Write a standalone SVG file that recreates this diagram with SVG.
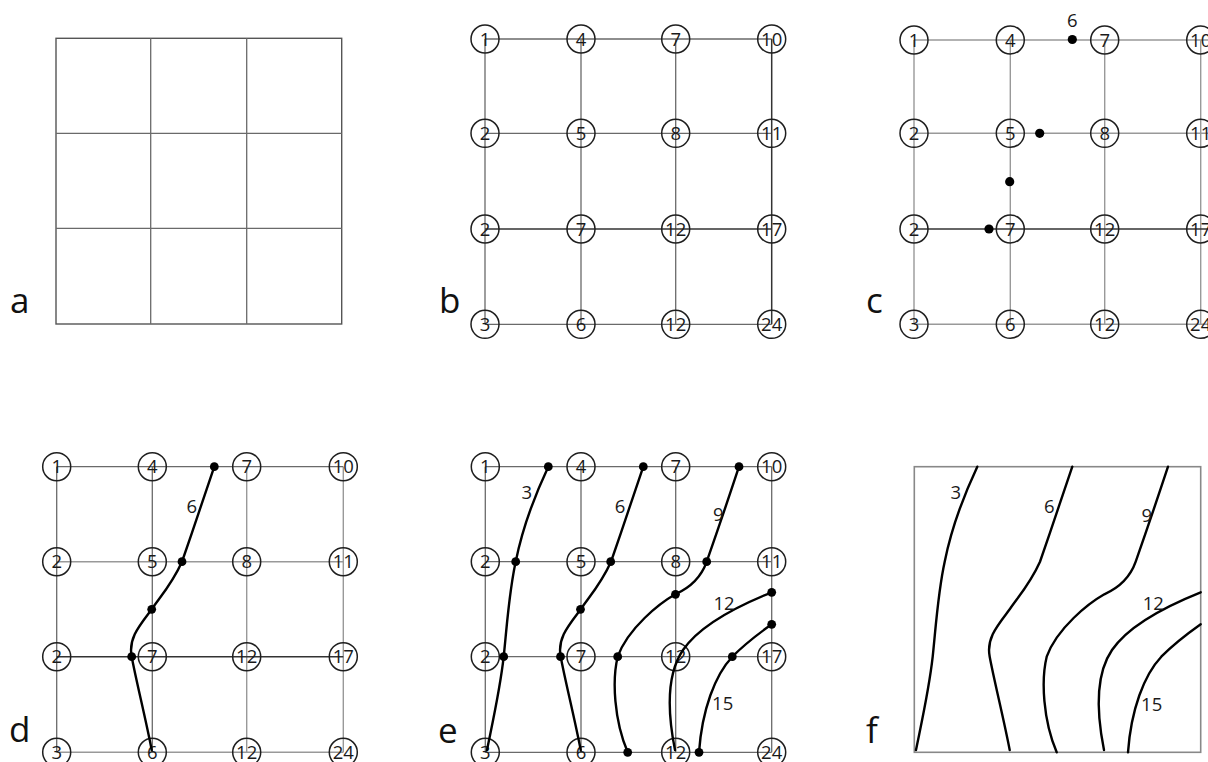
<svg xmlns="http://www.w3.org/2000/svg" xmlns:xlink="http://www.w3.org/1999/xlink" width="1208" height="762" viewBox="0 0 1208 762">
<style>
.bg{fill:#fff}
.g1{stroke:#6a6a6a;stroke-width:1.3;fill:none}
.g2{stroke:#999;stroke-width:1.4;fill:none}
.gd{stroke:#333;stroke-width:1.5;fill:none}
.box{stroke:#555;stroke-width:1.4;fill:none}
.boxf{stroke:#888;stroke-width:1.6;fill:none}
.n circle{fill:none;stroke:#1e1e1e;stroke-width:1.5}
.n text{font-family:"Open Sans","DejaVu Sans",sans-serif;font-size:18.5px;fill:#1a1a1a;text-anchor:middle}
.lab{font-family:"Open Sans","DejaVu Sans",sans-serif;font-size:35px;fill:#111}
.cl{font-family:"Open Sans","DejaVu Sans",sans-serif;font-size:18.5px;fill:#1a1a1a;text-anchor:middle}
.ct{fill:none;stroke:#000;stroke-width:2.4;stroke-linecap:round}
.dot{fill:#000}
</style>
<defs>
<path id="c3" d="M548.3,466.7 C535,495 522,530 515.7,561.7 C509,592 507,625 503.7,656.7 C500,690 492,725 487,750"/>
<path id="c6" d="M643.3,466.7 C633,497 622,530 611,561.7 C601,584 589,597 580.7,609.3 C569,625 557,638 560.7,656.7 C565,680 575,720 580.7,750"/>
<path id="c9" d="M739,466.7 C728,500 716,535 706.7,561.7 C702,575 692,587 675.3,594.3 C660,603 628,628 617.7,656.7 C612,680 614,720 627.7,752.3"/>
<path id="c12" d="M771.7,592.3 C740,605 700,625 683,650 C668,672 666,705 675,750"/>
<path id="c15" d="M771.7,624.3 C758,634 744,645 732.3,656.7 C715,675 702,710 699,752.3"/>
</defs>
<rect class="bg" x="0" y="0" width="1208" height="762"/>

<!-- Panel a -->
<g id="panel-a">
<rect class="box" x="56" y="38.3" width="285.7" height="285.7"/>
<path class="g1" d="M150.7,38.3V324 M246.7,38.3V324 M56,133.3H341.7 M56,228.3H341.7"/>
<text class="lab" x="10" y="313">a</text>
</g>

<!-- Panel b -->
<g id="panel-b">
<g id="b-connectors">
<path class="g1" d="M485,39H771.7 M485,133.3H771.7 M485,324.3H771.7 M485,39V324.3 M581,39V324.3 M675.7,39V324.3"/>
<path class="gd" d="M485,229H771.7 M771.7,39V324.3"/>
</g>
<g id="b-n1" class="n"><circle cx="485" cy="39" r="14"/><text x="485" y="45.5">1</text></g>
<g id="b-n4" class="n"><circle cx="581" cy="39" r="14"/><text x="581" y="45.5">4</text></g>
<g id="b-n7" class="n"><circle cx="675.7" cy="39" r="14"/><text x="675.7" y="45.5">7</text></g>
<g id="b-n10" class="n"><circle cx="771.7" cy="39" r="14"/><text x="771.7" y="45.5">10</text></g>
<g id="b-n2a" class="n"><circle cx="485" cy="133.3" r="14"/><text x="485" y="139.8">2</text></g>
<g id="b-n5" class="n"><circle cx="581" cy="133.3" r="14"/><text x="581" y="139.8">5</text></g>
<g id="b-n8" class="n"><circle cx="675.7" cy="133.3" r="14"/><text x="675.7" y="139.8">8</text></g>
<g id="b-n11" class="n"><circle cx="771.7" cy="133.3" r="14"/><text x="771.7" y="139.8">11</text></g>
<g id="b-n2b" class="n"><circle cx="485" cy="229" r="14"/><text x="485" y="235.5">2</text></g>
<g id="b-n7b" class="n"><circle cx="581" cy="229" r="14"/><text x="581" y="235.5">7</text></g>
<g id="b-n12a" class="n"><circle cx="675.7" cy="229" r="14"/><text x="675.7" y="235.5">12</text></g>
<g id="b-n17" class="n"><circle cx="771.7" cy="229" r="14"/><text x="771.7" y="235.5">17</text></g>
<g id="b-n3" class="n"><circle cx="485" cy="324.3" r="14"/><text x="485" y="330.8">3</text></g>
<g id="b-n6" class="n"><circle cx="581" cy="324.3" r="14"/><text x="581" y="330.8">6</text></g>
<g id="b-n12b" class="n"><circle cx="675.7" cy="324.3" r="14"/><text x="675.7" y="330.8">12</text></g>
<g id="b-n24" class="n"><circle cx="771.7" cy="324.3" r="14"/><text x="771.7" y="330.8">24</text></g>
<text class="lab" x="439" y="313">b</text>
</g>

<!-- Panel c -->
<g id="panel-c">
<g id="c-connectors">
<path class="g2" d="M914,40H1208 M914,133.3H1208 M914,324.3H1208 M914,40V324.3 M1010.3,40V324.3 M1104.7,40V324.3 M1200.7,40V324.3"/>
<path class="gd" d="M914,229H1208"/>
</g>
<g id="c-n1" class="n"><circle cx="914" cy="40" r="14"/><text x="914" y="46.5">1</text></g>
<g id="c-n4" class="n"><circle cx="1010.3" cy="40" r="14"/><text x="1010.3" y="46.5">4</text></g>
<g id="c-n7" class="n"><circle cx="1104.7" cy="40" r="14"/><text x="1104.7" y="46.5">7</text></g>
<g id="c-n10" class="n"><circle cx="1200.7" cy="40" r="14"/><text x="1200.7" y="46.5">10</text></g>
<g id="c-n2a" class="n"><circle cx="914" cy="133.3" r="14"/><text x="914" y="139.8">2</text></g>
<g id="c-n5" class="n"><circle cx="1010.3" cy="133.3" r="14"/><text x="1010.3" y="139.8">5</text></g>
<g id="c-n8" class="n"><circle cx="1104.7" cy="133.3" r="14"/><text x="1104.7" y="139.8">8</text></g>
<g id="c-n11" class="n"><circle cx="1200.7" cy="133.3" r="14"/><text x="1200.7" y="139.8">11</text></g>
<g id="c-n2b" class="n"><circle cx="914" cy="229" r="14"/><text x="914" y="235.5">2</text></g>
<g id="c-n7b" class="n"><circle cx="1010.3" cy="229" r="14"/><text x="1010.3" y="235.5">7</text></g>
<g id="c-n12a" class="n"><circle cx="1104.7" cy="229" r="14"/><text x="1104.7" y="235.5">12</text></g>
<g id="c-n17" class="n"><circle cx="1200.7" cy="229" r="14"/><text x="1200.7" y="235.5">17</text></g>
<g id="c-n3" class="n"><circle cx="914" cy="324.3" r="14"/><text x="914" y="330.8">3</text></g>
<g id="c-n6" class="n"><circle cx="1010.3" cy="324.3" r="14"/><text x="1010.3" y="330.8">6</text></g>
<g id="c-n12b" class="n"><circle cx="1104.7" cy="324.3" r="14"/><text x="1104.7" y="330.8">12</text></g>
<g id="c-n24" class="n"><circle cx="1200.7" cy="324.3" r="14"/><text x="1200.7" y="330.8">24</text></g>
<g id="c-points">
<circle class="dot" cx="1072.3" cy="39.5" r="4.6"/>
<circle class="dot" cx="1039.7" cy="133.3" r="4.6"/>
<circle class="dot" cx="1009.7" cy="181.7" r="4.6"/>
<circle class="dot" cx="989" cy="229" r="4.6"/>
<text class="cl" x="1072.3" y="26.5">6</text>
</g>
<text class="lab" x="866" y="313">c</text>
</g>

<!-- Panel d -->
<g id="panel-d">
<g id="d-connectors">
<path class="g2" d="M246.7,466.7V752.3 M343.3,466.7V752.3 M56.7,561.7H343.3 M56.7,752.3H343.3"/>
<path class="g1" d="M56.7,466.7H343.3 M56.7,466.7V752.3 M152.3,466.7V752.3"/>
<path class="gd" d="M56.7,656.7H343.3"/>
</g>
<g id="d-n1" class="n"><circle cx="56.7" cy="466.7" r="14"/><text x="56.7" y="473.2">1</text></g>
<g id="d-n4" class="n"><circle cx="152.3" cy="466.7" r="14"/><text x="152.3" y="473.2">4</text></g>
<g id="d-n7" class="n"><circle cx="246.7" cy="466.7" r="14"/><text x="246.7" y="473.2">7</text></g>
<g id="d-n10" class="n"><circle cx="343.3" cy="466.7" r="14"/><text x="343.3" y="473.2">10</text></g>
<g id="d-n2a" class="n"><circle cx="56.7" cy="561.7" r="14"/><text x="56.7" y="568.2">2</text></g>
<g id="d-n5" class="n"><circle cx="152.3" cy="561.7" r="14"/><text x="152.3" y="568.2">5</text></g>
<g id="d-n8" class="n"><circle cx="246.7" cy="561.7" r="14"/><text x="246.7" y="568.2">8</text></g>
<g id="d-n11" class="n"><circle cx="343.3" cy="561.7" r="14"/><text x="343.3" y="568.2">11</text></g>
<g id="d-n2b" class="n"><circle cx="56.7" cy="656.7" r="14"/><text x="56.7" y="663.2">2</text></g>
<g id="d-n7b" class="n"><circle cx="152.3" cy="656.7" r="14"/><text x="152.3" y="663.2">7</text></g>
<g id="d-n12a" class="n"><circle cx="246.7" cy="656.7" r="14"/><text x="246.7" y="663.2">12</text></g>
<g id="d-n17" class="n"><circle cx="343.3" cy="656.7" r="14"/><text x="343.3" y="663.2">17</text></g>
<g id="d-n3" class="n"><circle cx="56.7" cy="752.3" r="14"/><text x="56.7" y="758.8">3</text></g>
<g id="d-n6" class="n"><circle cx="152.3" cy="752.3" r="14"/><text x="152.3" y="758.8">6</text></g>
<g id="d-n12b" class="n"><circle cx="246.7" cy="752.3" r="14"/><text x="246.7" y="758.8">12</text></g>
<g id="d-n24" class="n"><circle cx="343.3" cy="752.3" r="14"/><text x="343.3" y="758.8">24</text></g>
<g id="d-contour">
<use href="#c6" xlink:href="#c6" class="ct" transform="translate(-429,0)"/>
<circle class="dot" cx="214.3" cy="466.7" r="4.4"/>
<circle class="dot" cx="182" cy="561.7" r="4.4"/>
<circle class="dot" cx="151.7" cy="609.3" r="4.4"/>
<circle class="dot" cx="131.7" cy="656.7" r="4.4"/>
<text class="cl" x="191.7" y="512.5">6</text>
</g>
<text class="lab" x="9" y="741.5">d</text>
</g>

<!-- Panel e -->
<g id="panel-e">
<g id="e-connectors">
<path class="g1" d="M485.3,466.7H771.7 M485.3,561.7H771.7 M485.3,656.7H771.7 M485.3,752.3H771.7 M485.3,466.7V752.3 M581,466.7V752.3 M675.7,466.7V752.3 M771.7,466.7V752.3"/>
</g>
<g id="e-n1" class="n"><circle cx="485.3" cy="466.7" r="14"/><text x="485.3" y="473.2">1</text></g>
<g id="e-n4" class="n"><circle cx="581" cy="466.7" r="14"/><text x="581" y="473.2">4</text></g>
<g id="e-n7" class="n"><circle cx="675.7" cy="466.7" r="14"/><text x="675.7" y="473.2">7</text></g>
<g id="e-n10" class="n"><circle cx="771.7" cy="466.7" r="14"/><text x="771.7" y="473.2">10</text></g>
<g id="e-n2a" class="n"><circle cx="485.3" cy="561.7" r="14"/><text x="485.3" y="568.2">2</text></g>
<g id="e-n5" class="n"><circle cx="581" cy="561.7" r="14"/><text x="581" y="568.2">5</text></g>
<g id="e-n8" class="n"><circle cx="675.7" cy="561.7" r="14"/><text x="675.7" y="568.2">8</text></g>
<g id="e-n11" class="n"><circle cx="771.7" cy="561.7" r="14"/><text x="771.7" y="568.2">11</text></g>
<g id="e-n2b" class="n"><circle cx="485.3" cy="656.7" r="14"/><text x="485.3" y="663.2">2</text></g>
<g id="e-n7b" class="n"><circle cx="581" cy="656.7" r="14"/><text x="581" y="663.2">7</text></g>
<g id="e-n12a" class="n"><circle cx="675.7" cy="656.7" r="14"/><text x="675.7" y="663.2">12</text></g>
<g id="e-n17" class="n"><circle cx="771.7" cy="656.7" r="14"/><text x="771.7" y="663.2">17</text></g>
<g id="e-n3" class="n"><circle cx="485.3" cy="752.3" r="14"/><text x="485.3" y="758.8">3</text></g>
<g id="e-n6" class="n"><circle cx="581" cy="752.3" r="14"/><text x="581" y="758.8">6</text></g>
<g id="e-n12b" class="n"><circle cx="675.7" cy="752.3" r="14"/><text x="675.7" y="758.8">12</text></g>
<g id="e-n24" class="n"><circle cx="771.7" cy="752.3" r="14"/><text x="771.7" y="758.8">24</text></g>
<g id="e-contours">
<use href="#c3" xlink:href="#c3" class="ct"/>
<use href="#c6" xlink:href="#c6" class="ct"/>
<use href="#c9" xlink:href="#c9" class="ct"/>
<use href="#c12" xlink:href="#c12" class="ct"/>
<use href="#c15" xlink:href="#c15" class="ct"/>
<circle class="dot" cx="548.3" cy="466.7" r="4.4"/>
<circle class="dot" cx="643.3" cy="466.7" r="4.4"/>
<circle class="dot" cx="739" cy="466.7" r="4.4"/>
<circle class="dot" cx="515.7" cy="561.7" r="4.4"/>
<circle class="dot" cx="610.7" cy="561.7" r="4.4"/>
<circle class="dot" cx="706.7" cy="561.7" r="4.4"/>
<circle class="dot" cx="580.5" cy="609.3" r="4.4"/>
<circle class="dot" cx="675.5" cy="594.3" r="4.4"/>
<circle class="dot" cx="771.7" cy="592.3" r="4.4"/>
<circle class="dot" cx="771.7" cy="624.3" r="4.4"/>
<circle class="dot" cx="503.7" cy="656.7" r="4.4"/>
<circle class="dot" cx="560.5" cy="656.7" r="4.4"/>
<circle class="dot" cx="617.7" cy="656.7" r="4.4"/>
<circle class="dot" cx="732.3" cy="656.7" r="4.4"/>
<circle class="dot" cx="627.7" cy="752.3" r="4.4"/>
<circle class="dot" cx="699" cy="752.3" r="4.4"/>
<text class="cl" x="526.7" y="498.5">3</text>
<text class="cl" x="620" y="512.5">6</text>
<text class="cl" x="718.3" y="520.5">9</text>
<text class="cl" x="724" y="609.5">12</text>
<text class="cl" x="722.7" y="710">15</text>
</g>
<text class="lab" x="438" y="743">e</text>
</g>

<!-- Panel f -->
<g id="panel-f">
<rect class="boxf" x="914.3" y="466.7" width="286.4" height="285.6"/>
<g id="f-contours" transform="translate(429,0)">
<use href="#c3" xlink:href="#c3" class="ct"/>
<use href="#c6" xlink:href="#c6" class="ct"/>
<use href="#c9" xlink:href="#c9" class="ct"/>
<use href="#c12" xlink:href="#c12" class="ct"/>
<use href="#c15" xlink:href="#c15" class="ct"/>
</g>
<text class="cl" x="955.7" y="499">3</text>
<text class="cl" x="1049.3" y="512.5">6</text>
<text class="cl" x="1146.7" y="521.5">9</text>
<text class="cl" x="1153.3" y="610">12</text>
<text class="cl" x="1151.7" y="711">15</text>
<text class="lab" x="866" y="743">f</text>
</g>
</svg>
